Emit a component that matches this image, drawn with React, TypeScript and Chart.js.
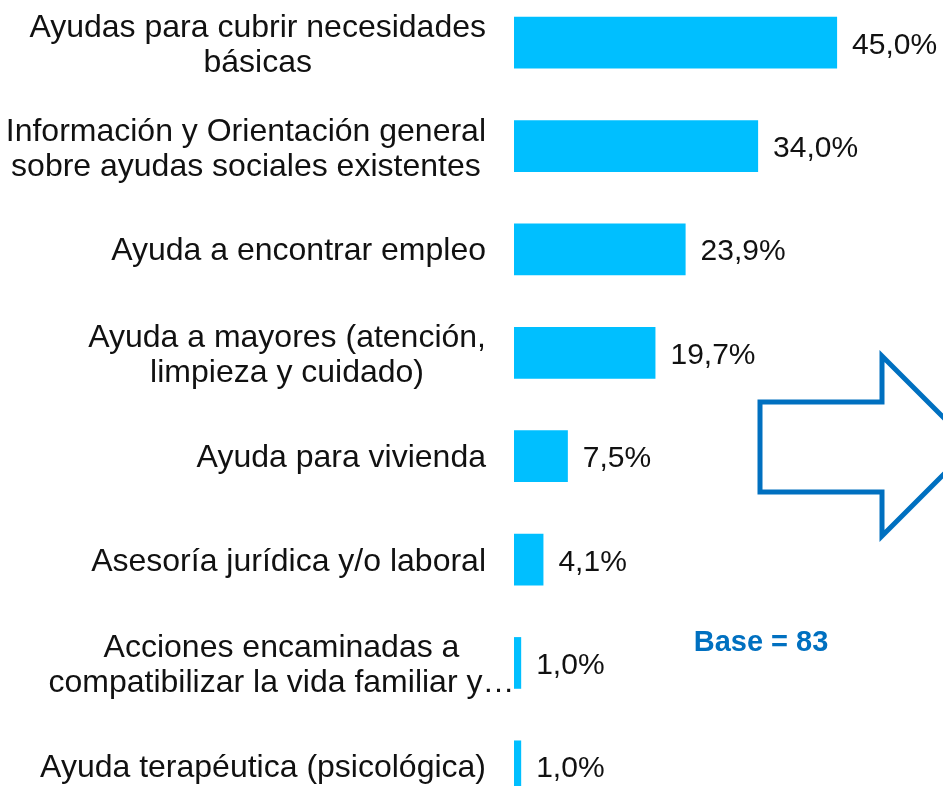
import React, { useEffect, useRef } from "react";
import { Chart, registerables } from "chart.js";

Chart.register(...registerables);

// ---- data ----
const categories: string[][] = [
  ["Ayudas para cubrir necesidades", "básicas"],
  ["Información y Orientación general", "sobre ayudas sociales existentes"],
  ["Ayuda a encontrar empleo"],
  ["Ayuda a mayores (atención,", "limpieza y cuidado)"],
  ["Ayuda para vivienda"],
  ["Asesoría jurídica y/o laboral"],
  ["Acciones encaminadas a", "compatibilizar la vida familiar y…"],
  ["Ayuda terapéutica (psicológica)"],
];
const values: number[] = [45.0, 34.0, 23.9, 19.7, 7.5, 4.1, 1.0, 1.0];
const valueLabels: string[] = values.map((v) => v.toFixed(1).replace(".", ",") + "%");
const baseNote = "Base = 83";

// ---- layout / style ----
const W = 943;
const H = 827;
const TOP = -9; // canvas offset (page coordinates = canvas coordinates + TOP)
const BAR_COLOR = "#00BFFF";
const BLUE = "#0070C0";
const FONT = '"Liberation Sans", Arial, sans-serif';

const categoryLabelPlugin = {
  id: "categoryLabels",
  afterDraw(chart: any) {
    const { ctx, chartArea } = chart;
    const yScale = chart.scales.y;
    const right = chartArea.left - 28;
    ctx.save();
    ctx.font = `32px ${FONT}`;
    ctx.fillStyle = "#111111";
    ctx.textAlign = "center";
    ctx.textBaseline = "alphabetic";
    categories.forEach((lines, i) => {
      const cy = yScale.getPixelForValue(i);
      const widths = lines.map((l) => ctx.measureText(l.replace(/ y…$/, "")).width);
      const bw = Math.max(...widths);
      const cx = right - bw / 2;
      const lh = 35;
      const n = lines.length;
      lines.forEach((l, k) => {
        const ly = cy + (k - (n - 1) / 2) * lh + 11 + (n > 1 ? 1 : 0);
        ctx.fillText(l, cx, ly);
      });
    });
    ctx.restore();
  },
};

const valueLabelPlugin = {
  id: "valueLabels",
  afterDatasetsDraw(chart: any) {
    const { ctx } = chart;
    const meta = chart.getDatasetMeta(0);
    ctx.save();
    ctx.font = `30px ${FONT}`;
    ctx.fillStyle = "#111111";
    ctx.textAlign = "left";
    ctx.textBaseline = "alphabetic";
    meta.data.forEach((bar: any, i: number) => {
      ctx.fillText(valueLabels[i], bar.x + 15, bar.y + 11);
    });
    ctx.restore();
  },
};

const decorationPlugin = {
  id: "decorations",
  afterDraw(chart: any) {
    const { ctx } = chart;
    const o = -TOP;
    ctx.save();
    // arrow outline
    ctx.strokeStyle = BLUE;
    ctx.lineWidth = 5;
    ctx.lineJoin = "miter";
    ctx.beginPath();
    ctx.moveTo(760, 402 + o);
    ctx.lineTo(882, 402 + o);
    ctx.lineTo(882, 356 + o);
    ctx.lineTo(972, 446 + o);
    ctx.lineTo(882, 536 + o);
    ctx.lineTo(882, 492 + o);
    ctx.lineTo(760, 492 + o);
    ctx.closePath();
    ctx.stroke();
    // base note
    ctx.fillStyle = BLUE;
    ctx.font = `bold 29px ${FONT}`;
    ctx.textAlign = "center";
    ctx.textBaseline = "alphabetic";
    ctx.fillText(baseNote, 761, 651 + o);
    ctx.restore();
  },
};

export default function App() {
  const canvasRef = useRef<HTMLCanvasElement | null>(null);

  useEffect(() => {
    if (!canvasRef.current) return;
    const chart = new Chart(canvasRef.current, {
      type: "bar",
      data: {
        labels: categories,
        datasets: [
          {
            data: values,
            backgroundColor: BAR_COLOR,
            borderWidth: 0,
            barPercentage: 0.5,
            categoryPercentage: 1,
          },
        ],
      },
      options: {
        indexAxis: "y",
        responsive: false,
        animation: false,
        devicePixelRatio: 1,
        layout: { padding: { left: 0, right: 70, top: 0, bottom: 0 } },
        plugins: {
          legend: { display: false },
          tooltip: { enabled: false },
          title: { display: false },
        },
        scales: {
          x: {
            display: false,
            min: 0,
            max: 50,
          },
          y: {
            display: true,
            grid: { display: false, drawTicks: false },
            border: { display: false },
            ticks: { display: false },
            afterFit: (scale: any) => {
              scale.width = 514;
            },
          },
        },
      },
      plugins: [categoryLabelPlugin, valueLabelPlugin, decorationPlugin],
    });
    return () => chart.destroy();
  }, []);

  return (
    <div
      style={{
        position: "fixed",
        left: 0,
        top: 0,
        width: W,
        height: 786,
        overflow: "hidden",
        background: "#ffffff",
      }}
    >
      <canvas
        ref={canvasRef}
        width={W}
        height={H}
        style={{ position: "absolute", left: 0, top: TOP, width: W, height: H }}
      />
    </div>
  );
}
